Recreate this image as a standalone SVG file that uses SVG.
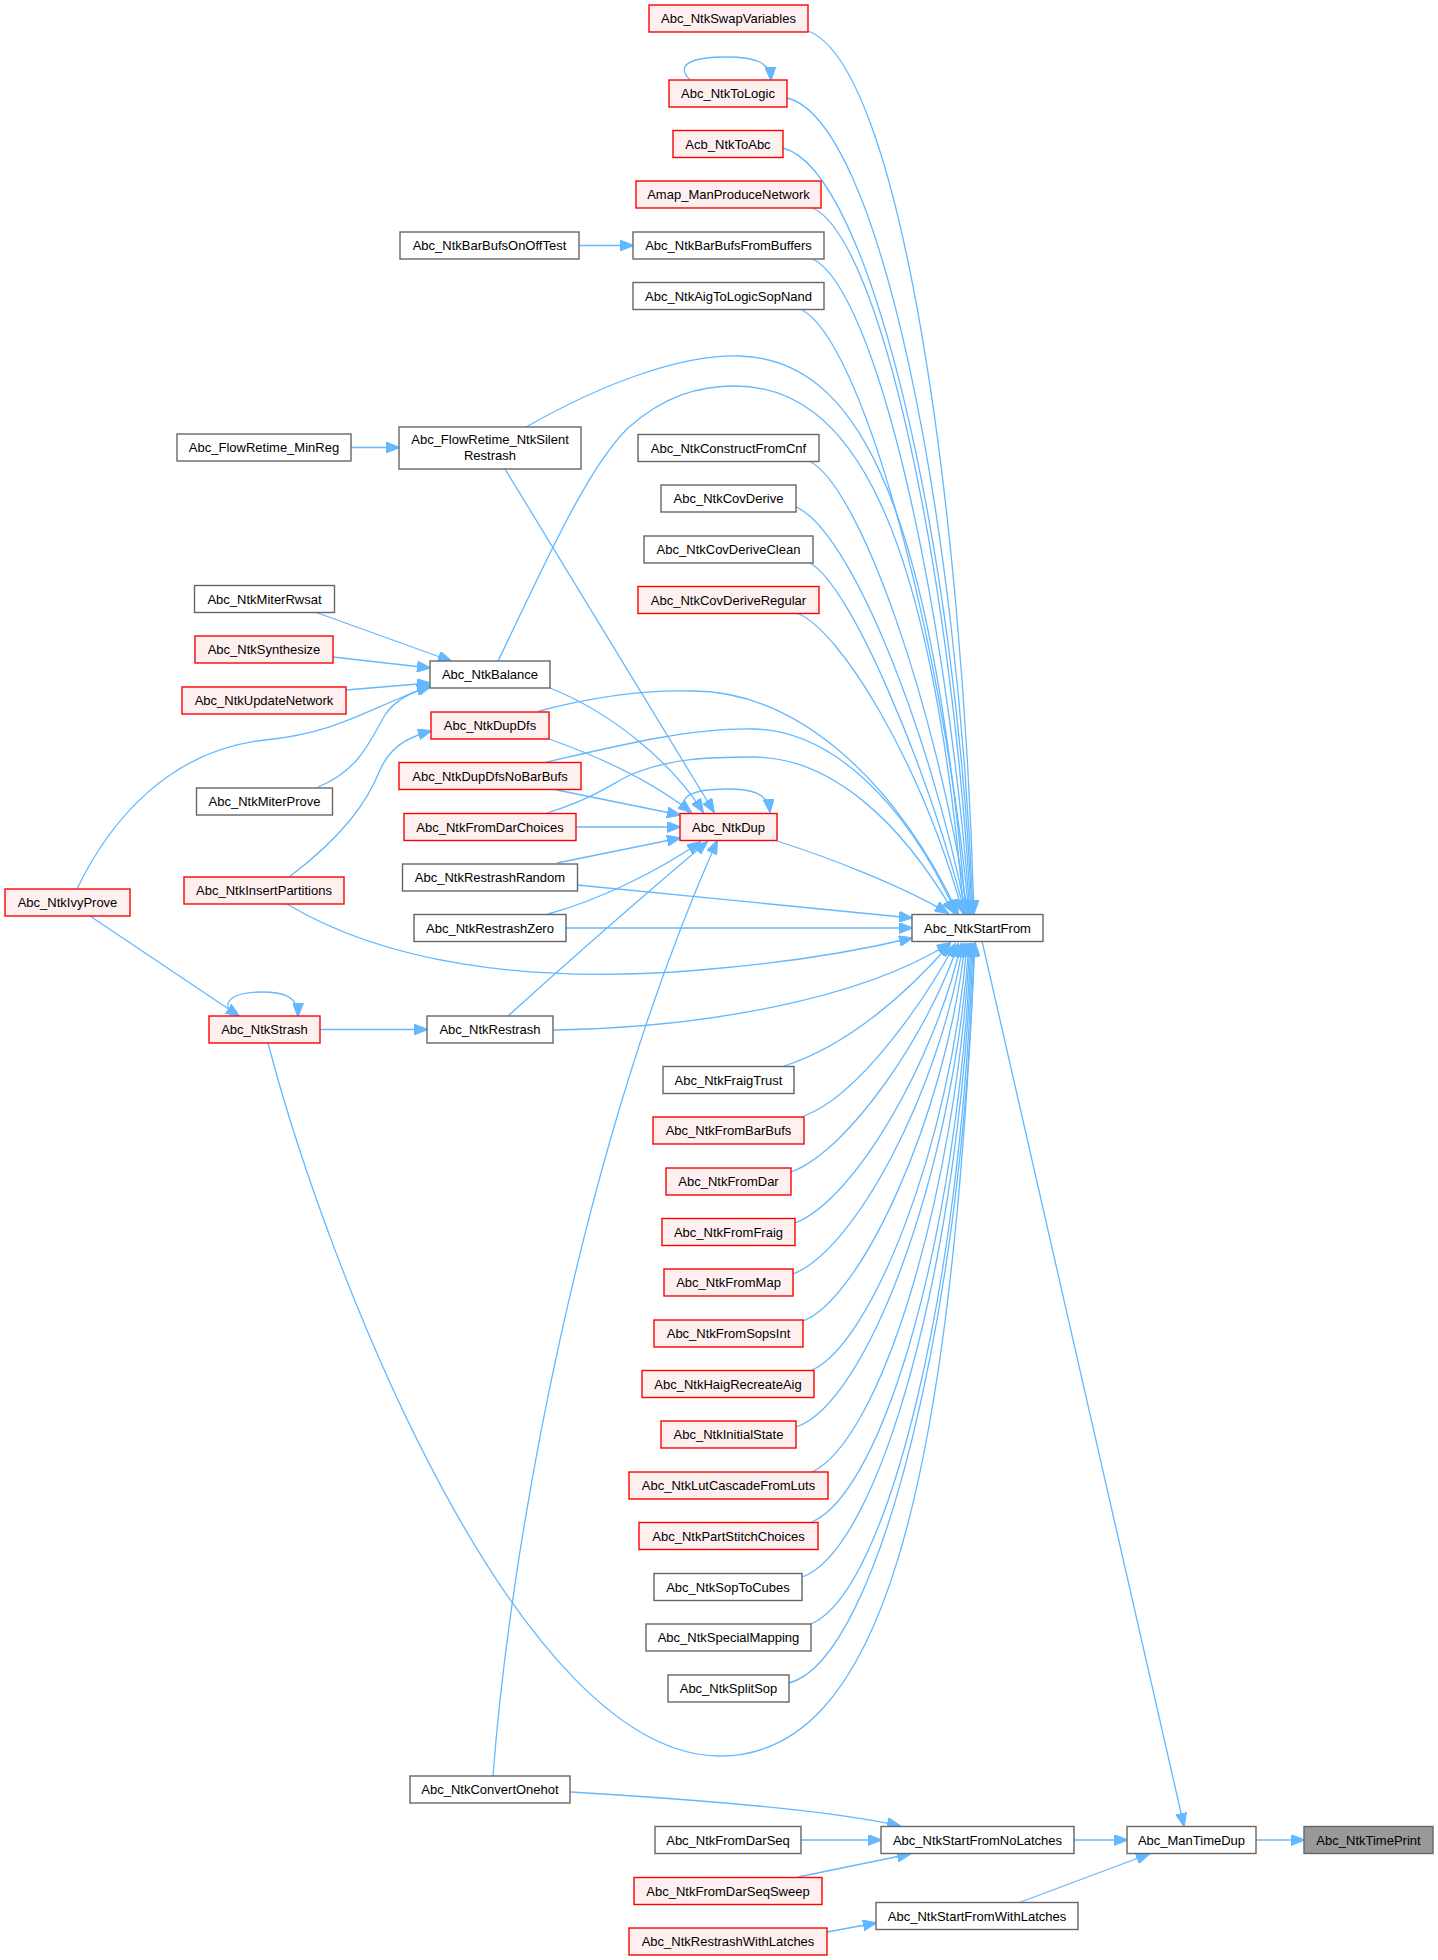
<svg xmlns="http://www.w3.org/2000/svg" width="1438" height="1960" viewBox="0 0 1438 1960">
<style>
rect{stroke-width:1.4}
.n{fill:#ffffff;stroke:#666666}
.r{fill:#fff0f0;stroke:#ff0000}
.g{fill:#999999;stroke:#666666}
text{font-family:"Liberation Sans",Arial,sans-serif;font-size:13px;fill:#000;text-anchor:middle}
.e path{fill:none;stroke:#63b8ff;stroke-width:1.3;marker-end:url(#a)}
</style>
<defs>
<marker id="a" markerWidth="14" markerHeight="11" refX="13" refY="5.5" orient="auto" markerUnits="userSpaceOnUse">
<path d="M0,0 L14,5.5 L0,11 z" fill="#63b8ff" stroke="#63b8ff" stroke-width="1"/>
</marker>
</defs>
<rect width="1438" height="1960" fill="#ffffff"/>
<g id="edges" class="e">
<path d="M808,31 C900,65 962,500 974,913"/>
<path d="M787,98 C880,120 958,520 973,913"/>
<path d="M783,148 C870,170 955,540 972,913"/>
<path d="M813,208 C880,240 950,560 971,913"/>
<path d="M813,259 C875,290 945,590 970,913"/>
<path d="M802,310 C860,340 940,620 969,913"/>
<path d="M811,462 C860,490 935,700 968,913"/>
<path d="M796,507 C850,530 930,730 966,913"/>
<path d="M810,563 C850,585 925,760 965,913"/>
<path d="M797,613 C840,630 920,760 963,913"/>
<path d="M526,427 C600,385 680,354 740,356 C850,360 930,480 966,913"/>
<path d="M498,661 C540,575 585,470 628,428 C665,395 700,386 735,386 C850,386 930,520 964,913"/>
<path d="M539,711 C600,695 650,690 690,691 C790,690 890,770 958,913"/>
<path d="M547,762 C620,745 690,728 753,729 C830,730 905,800 956,913"/>
<path d="M547,813 C590,800 610,785 630,775 C670,758 710,757 753,757 C830,757 900,820 954,913"/>
<path d="M777,841 C830,858 900,885 948,913"/>
<path d="M577,885 L912,918"/>
<path d="M566,928 L912,928"/>
<path d="M287,904 C380,960 520,985 700,970 C800,962 870,948 912,938"/>
<path d="M553,1030 C700,1028 860,1000 950,943"/>
<path d="M268,1043 C330,1280 520,1756 720,1756 C880,1756 950,1500 975,943"/>
<path d="M784,1066 C850,1045 910,990 950,944"/>
<path d="M804,1116 C860,1095 925,1000 955,944"/>
<path d="M791,1172 C850,1150 930,1030 958,944"/>
<path d="M795,1223 C855,1200 935,1060 961,944"/>
<path d="M793,1274 C855,1250 940,1090 963,944"/>
<path d="M803,1321 C860,1300 945,1120 965,944"/>
<path d="M812,1370 C870,1345 950,1150 967,944"/>
<path d="M796,1427 C865,1405 952,1180 969,944"/>
<path d="M812,1472 C880,1440 955,1200 970,944"/>
<path d="M812,1522 C885,1490 958,1230 971,944"/>
<path d="M802,1577 C880,1550 960,1260 972,944"/>
<path d="M811,1624 C890,1590 962,1280 973,944"/>
<path d="M789,1683 C880,1660 965,1300 974,944"/>
<path d="M550,688 C610,712 670,760 703,812"/>
<path d="M505,469 L714,812"/>
<path d="M549,739 C600,757 650,780 691,812"/>
<path d="M557,790 L680,815"/>
<path d="M576,827 L680,827"/>
<path d="M557,863 L680,838"/>
<path d="M548,914 C600,900 660,870 700,842"/>
<path d="M508,1016 C570,960 650,890 707,842"/>
<path d="M493,1776 C510,1550 580,1150 717,841"/>
<path d="M689,813 C675,798 690,789 727,789 C752,789 768,793 770,812"/>
<path d="M315,612 L451,661"/>
<path d="M333,657 L430,668"/>
<path d="M346,690 L430,683"/>
<path d="M77,889 C110,820 170,750 265,740 C340,732 365,710 430,686"/>
<path d="M318,787 C360,770 370,740 385,715 C395,700 410,692 430,687"/>
<path d="M289,877 C345,835 368,800 380,770 C390,748 405,738 431,731"/>
<path d="M90,916 L239,1016"/>
<path d="M232,1016 C220,1000 235,992 262,992 C285,992 298,997 298,1016"/>
<path d="M320,1029.5 L427,1029.5"/>
<path d="M690,80 C675,65 690,57 727,57 C755,57 770,62 771,80"/>
<path d="M351,447.5 L399,447.5"/>
<path d="M579,245.5 L633,245.5"/>
<path d="M982,941 L1184,1826"/>
<path d="M571,1792 C700,1800 830,1810 900,1826"/>
<path d="M801,1840 L881,1840"/>
<path d="M798,1877 L910,1854"/>
<path d="M1074,1840 L1127,1840"/>
<path d="M1018,1903 L1149,1854"/>
<path d="M827,1932 L876,1923"/>
<path d="M1256,1840 L1304,1840"/>
</g>
<g id="n_SwapVariables"><rect class="r" x="649" y="5" width="159" height="27"/><text x="728.5" y="23">Abc_NtkSwapVariables</text></g>
<g id="n_ToLogic"><rect class="r" x="669" y="80" width="118" height="27"/><text x="728" y="98">Abc_NtkToLogic</text></g>
<g id="n_AcbToAbc"><rect class="r" x="673" y="130.5" width="110" height="27"/><text x="728" y="148.5">Acb_NtkToAbc</text></g>
<g id="n_Amap"><rect class="r" x="636" y="181" width="185" height="27"/><text x="728.5" y="199">Amap_ManProduceNetwork</text></g>
<g id="n_BarBufsFromBuffers"><rect class="n" x="633" y="232" width="191" height="27"/><text x="728.5" y="250">Abc_NtkBarBufsFromBuffers</text></g>
<g id="n_BarBufsOnOffTest"><rect class="n" x="400" y="232" width="179" height="27"/><text x="489.5" y="250">Abc_NtkBarBufsOnOffTest</text></g>
<g id="n_AigToLogicSopNand"><rect class="n" x="633" y="282.5" width="191" height="27"/><text x="728.5" y="300.5">Abc_NtkAigToLogicSopNand</text></g>
<g id="n_FlowRetimeMinReg"><rect class="n" x="177" y="434" width="174" height="27"/><text x="264" y="452">Abc_FlowRetime_MinReg</text></g>
<g id="n_FlowRetimeSilent"><rect class="n" x="399" y="427" width="182" height="42"/><text x="490" y="444">Abc_FlowRetime_NtkSilent</text><text x="490" y="460">Restrash</text></g>
<g id="n_ConstructFromCnf"><rect class="n" x="638" y="434.5" width="181" height="27"/><text x="728.5" y="452.5">Abc_NtkConstructFromCnf</text></g>
<g id="n_CovDerive"><rect class="n" x="661" y="485" width="135" height="27"/><text x="728.5" y="503">Abc_NtkCovDerive</text></g>
<g id="n_CovDeriveClean"><rect class="n" x="644" y="536" width="169" height="27"/><text x="728.5" y="554">Abc_NtkCovDeriveClean</text></g>
<g id="n_CovDeriveRegular"><rect class="r" x="638" y="586.5" width="181" height="27"/><text x="728.5" y="604.5">Abc_NtkCovDeriveRegular</text></g>
<g id="n_MiterRwsat"><rect class="n" x="194.5" y="585.5" width="140" height="27"/><text x="264.5" y="603.5">Abc_NtkMiterRwsat</text></g>
<g id="n_Synthesize"><rect class="r" x="195" y="636" width="138" height="27"/><text x="264" y="654">Abc_NtkSynthesize</text></g>
<g id="n_UpdateNetwork"><rect class="r" x="182" y="687" width="164" height="27"/><text x="264" y="705">Abc_NtkUpdateNetwork</text></g>
<g id="n_Balance"><rect class="n" x="430" y="661" width="120" height="27"/><text x="490" y="679">Abc_NtkBalance</text></g>
<g id="n_DupDfs"><rect class="r" x="431" y="712" width="118" height="27"/><text x="490" y="730">Abc_NtkDupDfs</text></g>
<g id="n_DupDfsNoBarBufs"><rect class="r" x="399" y="762.5" width="182" height="27"/><text x="490" y="780.5">Abc_NtkDupDfsNoBarBufs</text></g>
<g id="n_MiterProve"><rect class="n" x="196.5" y="788" width="136" height="27"/><text x="264.5" y="806">Abc_NtkMiterProve</text></g>
<g id="n_FromDarChoices"><rect class="r" x="404" y="813.5" width="172" height="27"/><text x="490" y="831.5">Abc_NtkFromDarChoices</text></g>
<g id="n_Dup"><rect class="r" x="680" y="813.5" width="97" height="27"/><text x="728.5" y="831.5">Abc_NtkDup</text></g>
<g id="n_RestrashRandom"><rect class="n" x="402.5" y="864" width="175" height="27"/><text x="490" y="882">Abc_NtkRestrashRandom</text></g>
<g id="n_InsertPartitions"><rect class="r" x="184" y="877" width="160" height="27"/><text x="264" y="895">Abc_NtkInsertPartitions</text></g>
<g id="n_IvyProve"><rect class="r" x="5" y="889" width="125" height="27"/><text x="67.5" y="907">Abc_NtkIvyProve</text></g>
<g id="n_RestrashZero"><rect class="n" x="414" y="914.5" width="152" height="27"/><text x="490" y="932.5">Abc_NtkRestrashZero</text></g>
<g id="n_StartFrom"><rect class="n" x="912" y="914.5" width="131" height="27"/><text x="977.5" y="932.5">Abc_NtkStartFrom</text></g>
<g id="n_Strash"><rect class="r" x="209" y="1016" width="111" height="27"/><text x="264.5" y="1034">Abc_NtkStrash</text></g>
<g id="n_Restrash"><rect class="n" x="427" y="1016" width="126" height="27"/><text x="490" y="1034">Abc_NtkRestrash</text></g>
<g id="n_FraigTrust"><rect class="n" x="663" y="1066.5" width="131" height="27"/><text x="728.5" y="1084.5">Abc_NtkFraigTrust</text></g>
<g id="n_FromBarBufs"><rect class="r" x="653" y="1117" width="151" height="27"/><text x="728.5" y="1135">Abc_NtkFromBarBufs</text></g>
<g id="n_FromDar"><rect class="r" x="666" y="1168" width="125" height="27"/><text x="728.5" y="1186">Abc_NtkFromDar</text></g>
<g id="n_FromFraig"><rect class="r" x="662" y="1218.5" width="133" height="27"/><text x="728.5" y="1236.5">Abc_NtkFromFraig</text></g>
<g id="n_FromMap"><rect class="r" x="664" y="1269" width="129" height="27"/><text x="728.5" y="1287">Abc_NtkFromMap</text></g>
<g id="n_FromSopsInt"><rect class="r" x="654" y="1320" width="149" height="27"/><text x="728.5" y="1338">Abc_NtkFromSopsInt</text></g>
<g id="n_HaigRecreateAig"><rect class="r" x="642" y="1370.5" width="172" height="27"/><text x="728" y="1388.5">Abc_NtkHaigRecreateAig</text></g>
<g id="n_InitialState"><rect class="r" x="661" y="1421" width="135" height="27"/><text x="728.5" y="1439">Abc_NtkInitialState</text></g>
<g id="n_LutCascadeFromLuts"><rect class="r" x="629" y="1472" width="199" height="27"/><text x="728.5" y="1490">Abc_NtkLutCascadeFromLuts</text></g>
<g id="n_PartStitchChoices"><rect class="r" x="639" y="1522.5" width="179" height="27"/><text x="728.5" y="1540.5">Abc_NtkPartStitchChoices</text></g>
<g id="n_SopToCubes"><rect class="n" x="654" y="1573.5" width="148" height="27"/><text x="728" y="1591.5">Abc_NtkSopToCubes</text></g>
<g id="n_SpecialMapping"><rect class="n" x="646" y="1624" width="165" height="27"/><text x="728.5" y="1642">Abc_NtkSpecialMapping</text></g>
<g id="n_SplitSop"><rect class="n" x="668" y="1675" width="121" height="27"/><text x="728.5" y="1693">Abc_NtkSplitSop</text></g>
<g id="n_ConvertOnehot"><rect class="n" x="410" y="1776" width="160" height="27"/><text x="490" y="1794">Abc_NtkConvertOnehot</text></g>
<g id="n_FromDarSeq"><rect class="n" x="655" y="1826.5" width="146" height="27"/><text x="728" y="1844.5">Abc_NtkFromDarSeq</text></g>
<g id="n_StartFromNoLatches"><rect class="n" x="881" y="1826.5" width="193" height="27"/><text x="977.5" y="1844.5">Abc_NtkStartFromNoLatches</text></g>
<g id="n_ManTimeDup"><rect class="n" x="1127" y="1826.5" width="129" height="27"/><text x="1191.5" y="1844.5">Abc_ManTimeDup</text></g>
<g id="n_TimePrint"><rect class="g" x="1304" y="1826.5" width="129" height="27"/><text x="1368.5" y="1844.5">Abc_NtkTimePrint</text></g>
<g id="n_FromDarSeqSweep"><rect class="r" x="634" y="1877.5" width="188" height="27"/><text x="728" y="1895.5">Abc_NtkFromDarSeqSweep</text></g>
<g id="n_StartFromWithLatches"><rect class="n" x="876" y="1902.5" width="202" height="27"/><text x="977" y="1920.5">Abc_NtkStartFromWithLatches</text></g>
<g id="n_RestrashWithLatches"><rect class="r" x="629" y="1928" width="198" height="27"/><text x="728" y="1946">Abc_NtkRestrashWithLatches</text></g>
</svg>
